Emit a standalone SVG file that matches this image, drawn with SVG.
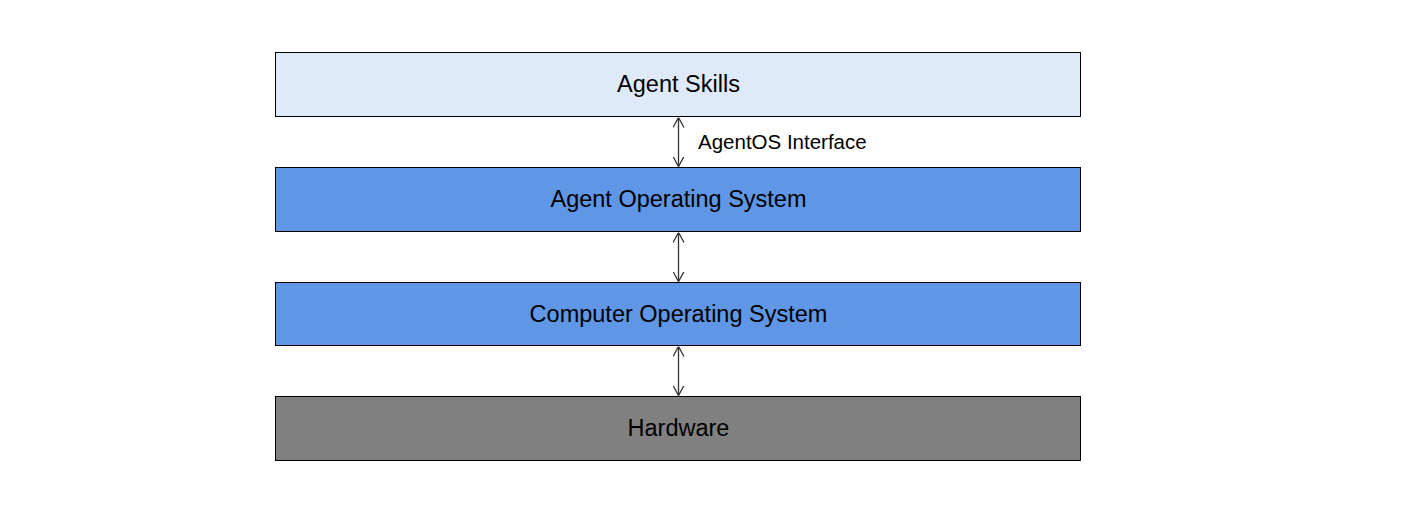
<svg xmlns="http://www.w3.org/2000/svg" width="1407" height="508" viewBox="0 0 1407 508">
<style>
.box{stroke:#000;stroke-width:1}
.t{font-family:"Liberation Sans",Arial,sans-serif;font-size:23.5px;fill:#000;text-anchor:middle;dominant-baseline:central}
.lbl{font-family:"Liberation Sans",Arial,sans-serif;font-size:20.5px;fill:#000}
.c{stroke:#333;stroke-width:1.3;fill:none}
</style>
<defs>
<marker id="ah" viewBox="0 0 10 12" refX="10" refY="6" markerWidth="10" markerHeight="12" markerUnits="userSpaceOnUse" orient="auto-start-reverse">
<path d="M0,0.5 L10,6 L0,11.5" fill="none" stroke="#333" stroke-width="1.3"/>
</marker>
</defs>
<rect width="1407" height="508" fill="#fff"/>
<g id="skills"><rect class="box" x="275.5" y="52.5" width="805" height="64" fill="#dee9f9"/><text class="t" x="678.5" y="84">Agent Skills</text></g>
<g id="agentos"><rect class="box" x="275.5" y="167.5" width="805" height="64" fill="#5f96e6"/><text class="t" x="678.5" y="199">Agent Operating System</text></g>
<g id="computeros"><rect class="box" x="275.5" y="282.5" width="805" height="63" fill="#5f96e6"/><text class="t" x="678.5" y="313.5">Computer Operating System</text></g>
<g id="hardware"><rect class="box" x="275.5" y="396.5" width="805" height="64" fill="#808080"/><text class="t" x="678.5" y="428">Hardware</text></g>
<g id="connectors">
<line class="c" x1="678.5" y1="117.5" x2="678.5" y2="166.5" marker-start="url(#ah)" marker-end="url(#ah)"/>
<line class="c" x1="678.5" y1="232.5" x2="678.5" y2="281.5" marker-start="url(#ah)" marker-end="url(#ah)"/>
<line class="c" x1="678.5" y1="346.5" x2="678.5" y2="395.5" marker-start="url(#ah)" marker-end="url(#ah)"/>
<text class="lbl" x="698" y="149">AgentOS Interface</text>
</g>
</svg>
